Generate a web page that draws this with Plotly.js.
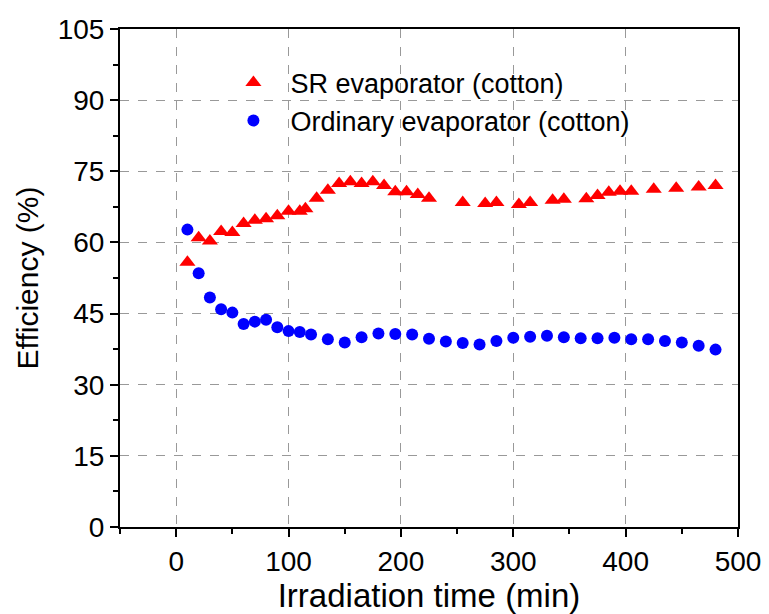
<!DOCTYPE html>
<html>
<head>
<meta charset="utf-8">
<script src="https://cdn.plot.ly/plotly-3.0.1.min.js"></script>
<style>html,body{margin:0;padding:0;background:#fff;}</style>
</head>
<body>
<div id="chart" style="width:769px;height:614px;"></div>
<script>
const srTime = [10,20,30,40,50,60,70,80,90,100,110,115,125,135,145,155,165,175,185,195,205,215,225,255,275,285,305,315,335,345,365,375,385,395,405,425,445,465,480];
const srEff  = [55.8,61,60.3,62.3,62.1,64,64.7,65,65.6,66.6,66.6,67.1,69.3,71,72.4,72.8,72.4,72.8,72,70.7,70.7,70.1,69.3,68.4,68.2,68.4,68.0,68.4,68.9,69.1,69.2,69.9,70.6,70.8,70.8,71.2,71.4,71.7,72.0];
const ordTime = [10,20,30,40,50,60,70,80,90,100,110,120,135,150,165,180,195,210,225,240,255,270,285,300,315,330,345,360,375,390,405,420,435,450,465,480];
const ordEff  = [62.7,53.5,48.4,45.9,45.2,42.8,43.3,43.7,42.1,41.3,41.1,40.6,39.6,38.9,40.0,40.8,40.7,40.6,39.7,39.1,38.8,38.5,39.2,39.9,40.1,40.3,40.0,39.8,39.8,39.9,39.6,39.6,39.2,38.9,38.2,37.4];
const xTicks = [0,100,200,300,400,500];
const yTicks = [0,15,30,45,60,75,90,105];

const traces = [
  {x: srTime, y: srEff, type: 'scatter', mode: 'markers', name: 'SR evaporator (cotton)',
   marker: {symbol: 'triangle-up', size: 14, color: '#ff0000'}},
  {x: ordTime, y: ordEff, type: 'scatter', mode: 'markers', name: 'Ordinary evaporator (cotton)',
   marker: {symbol: 'circle', size: 12, color: '#0000ff'}}
];

const fontFam = 'Liberation Sans, Arial, sans-serif';
const layout = {
  width: 769, height: 614,
  margin: {l: 120, r: 31, t: 29, b: 87},
  paper_bgcolor: '#fff', plot_bgcolor: '#fff',
  font: {family: fontFam, color: '#000'},
  showlegend: true,
  legend: {x: 0.156, y: 0.941, xanchor: 'left', yanchor: 'top', bgcolor: 'rgba(0,0,0,0)',
           font: {size: 27, family: fontFam}, itemwidth: 64, tracegroupgap: 0},
  xaxis: {
    range: [-50, 500], tickvals: xTicks, ticktext: xTicks.map(String),
    ticks: 'outside', ticklen: 8, tickwidth: 2, tickcolor: '#000',
    showline: true, linewidth: 2, linecolor: '#000', mirror: true,
    showgrid: true, gridcolor: '#999999', griddash: 'dash', gridwidth: 1,
    zeroline: false,
    minor: {dtick: 50, tick0: -50, ticks: 'outside', ticklen: 5, tickwidth: 2, tickcolor: '#000', showgrid: false},
    tickfont: {size: 28, family: fontFam},
    title: {text: 'Irradiation time (min)', font: {size: 33, family: fontFam}, standoff: 3}
  },
  yaxis: {
    range: [0, 105], tickvals: yTicks, ticktext: yTicks.map(String),
    ticks: 'outside', ticklen: 8, tickwidth: 2, tickcolor: '#000',
    showline: true, linewidth: 2, linecolor: '#000', mirror: true,
    showgrid: true, gridcolor: '#999999', griddash: 'dash', gridwidth: 1,
    zeroline: false,
    minor: {dtick: 7.5, tick0: 0, ticks: 'outside', ticklen: 5, tickwidth: 2, tickcolor: '#000', showgrid: false},
    tickfont: {size: 28, family: fontFam},
    title: {text: 'Efficiency (%)', font: {size: 30, family: fontFam}, standoff: 10}
  }
};
Plotly.newPlot('chart', traces, layout, {displayModeBar: false, staticPlot: true});
</script>
</body>
</html>
